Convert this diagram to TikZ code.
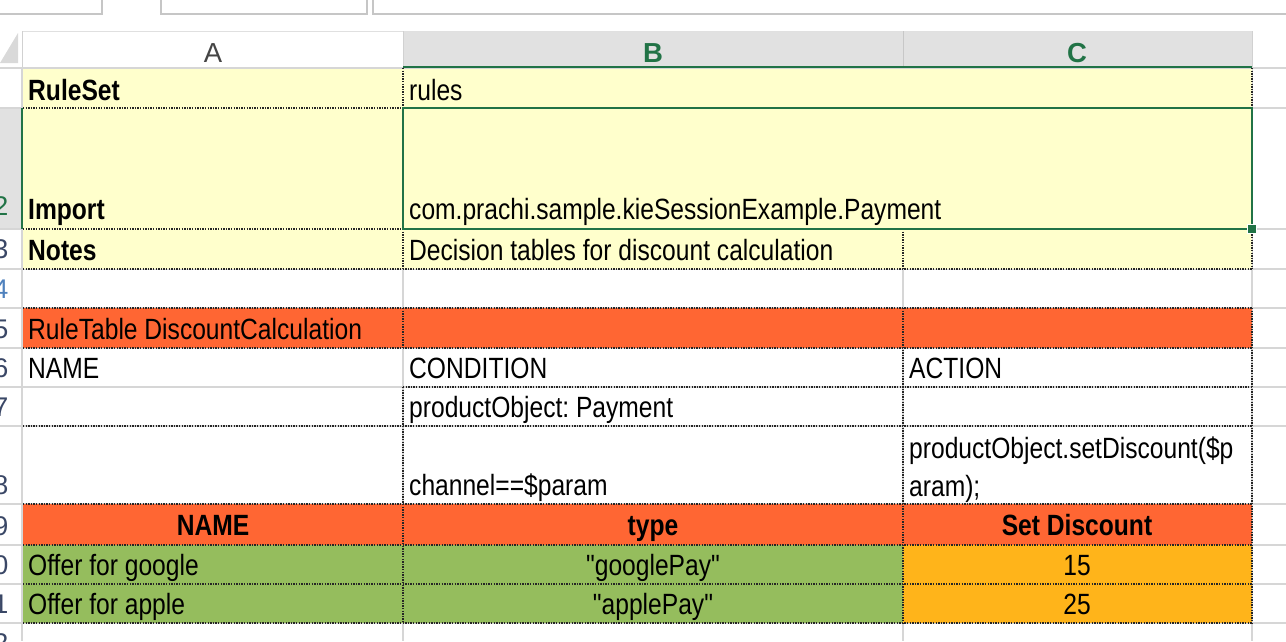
\documentclass[tikz,border=0pt]{standalone}
\usepackage{fontspec}
\newfontfamily\cellfont{Liberation Sans}[FakeStretch=0.84]
\newfontfamily\hdrfont{Liberation Sans}
\definecolor{xlyellow}{HTML}{FFFFCC}
\definecolor{xlorange}{HTML}{FF6633}
\definecolor{xlgreen}{HTML}{95BD5D}
\definecolor{xlamber}{HTML}{FFB41A}
\definecolor{selgreen}{HTML}{217346}
\definecolor{gridgray}{HTML}{D6D6D6}
\definecolor{hdrgray}{HTML}{E1E1E1}
\definecolor{boxgray}{HTML}{C6C6C6}
\definecolor{rownum}{HTML}{3A4766}
\definecolor{rowblue}{HTML}{4F81BD}
\frenchspacing
\begin{document}
\begin{tikzpicture}[x=1pt,y=-1pt,
  cell/.style={inner sep=0pt, anchor=base west, font={\cellfont\fontsize{29.3}{30}\selectfont}},
  cellb/.style={cell, font={\cellfont\bfseries\fontsize{29.3}{30}\selectfont}},
  cellc/.style={cell, anchor=base},
  cellcb/.style={cellb, anchor=base},
  colhdr/.style={inner sep=0pt, anchor=base, font={\hdrfont\fontsize{27.5}{27.5}\selectfont}, text=black!73},
  colhdrsel/.style={colhdr, font={\hdrfont\bfseries\fontsize{27.5}{27.5}\selectfont}, text=selgreen},
  rowhdr/.style={inner sep=0pt, anchor=base east, font={\hdrfont\fontsize{27}{27}\selectfont}, text=rownum},
  gridline/.style={draw=gridgray, line width=1.3pt},
  dotline/.style={draw=black!85, line width=1.3pt, dash pattern=on 1.3pt off 1.3pt},
  topbox/.style={draw=boxgray, line width=1.5pt},
  selline/.style={draw=selgreen, line width=2.6pt}
]
\useasboundingbox (0,0) rectangle (1286,641);
\fill[white] (0,0) rectangle (1286,641);

% top strip boxes
\draw[topbox] (102,-3) -- (102,14) -- (-3,14);
\draw[topbox] (161,-3) -- (161,14) -- (367,14) -- (367,-3);
\draw[topbox] (373,-3) -- (373,14) -- (1290,14);

% column header band
\fill[hdrgray] (403,31) rectangle (1252,67);
\fill[black!15] (0,63) -- (18,63) -- (18,33) -- cycle;
\draw[draw=black!12, line width=1pt] (22,31) -- (1252,31);
\draw[draw=black!18, line width=1pt] (22,31) -- (22,68);
\draw[draw=black!22, line width=1pt] (903,31) -- (903,67);
\draw[draw=black!18, line width=1pt] (403,31) -- (403,67);
\draw[draw=black!18, line width=1pt] (1252,31) -- (1252,67);

% row header highlight for row 2
\fill[hdrgray] (0,108) rectangle (22,229);

% gray gridlines
\foreach \yy in {68,108,229,269,308,348,387,426,504,545,584,623}
  \draw[gridline] (0,\yy) -- (1286,\yy);
\foreach \xx in {22,403,903,1252}
  \draw[gridline] (\xx,68) -- (\xx,641);

% cell fills
\fill[xlyellow] (23,68.7) rectangle (1252,269);
\fill[xlorange] (23,308) rectangle (1252,348);
\fill[xlorange] (23,504) rectangle (1252,545);
\fill[xlgreen] (23,545) rectangle (903,623);
\fill[xlamber] (903,545) rectangle (1252,623);

% dotted cell borders
\draw[dotline] (23,108) -- (403,108);
\foreach \yy in {229,269,308,348,426,504,545,584,623}
  \draw[dotline] (23,\yy) -- (1252,\yy);
\draw[dotline] (403,387) -- (1252,387);
\draw[dotline] (403,68) -- (403,108);
\draw[dotline] (403,229) -- (403,269);
\draw[dotline] (403,308) -- (403,348);
\draw[dotline] (403,387) -- (403,623);
\draw[dotline] (903,229) -- (903,269);
\draw[dotline] (903,308) -- (903,623);
\draw[dotline] (1252,68) -- (1252,269);
\draw[dotline] (1252,308) -- (1252,623);

% header underline for selected columns and row
\draw[selline] (403,67) -- (1252,67);
\draw[selline] (22,108) -- (22,229);

% selection rectangle and fill handle
\draw[selline] (403,108) rectangle (1252,229);
\draw[fill=selgreen, draw=white, line width=1pt] (1247.5,224.5) rectangle (1256.5,233.5);

% column letters
\node[colhdr] (hA) at (213,62) {A};
\node[colhdrsel] (hB) at (653,62) {B};
\node[colhdrsel] (hC) at (1077,62) {C};

% row numbers (clipped, header column only partly visible)
\begin{scope}
\clip (0,68) rectangle (21,641);
\node[rowhdr, text=selgreen] (r2) at (8.5,215) {2};
\node[rowhdr] (r3) at (8.5,258) {3};
\node[rowhdr, text=rowblue] (r4) at (8.5,298) {4};
\node[rowhdr] (r5) at (8.5,338) {5};
\node[rowhdr] (r6) at (8.5,377) {6};
\node[rowhdr] (r7) at (8.5,416) {7};
\node[rowhdr] (r8) at (8.5,494) {8};
\node[rowhdr] (r9) at (8.5,535) {9};
\node[rowhdr] (r10) at (8.5,574) {10};
\node[rowhdr] (r11) at (8.5,613) {11};
\node[rowhdr] (r12) at (8.5,652) {12};
\end{scope}

% cell texts
\node[cellb] (a1) at (28,100) {RuleSet};
\node[cell] (b1) at (409,100) {rules};
\node[cellb] (a2) at (28,219) {Import};
\node[cell] (b2) at (409,219) {com.prachi.sample.kieSessionExample.Payment};
\node[cellb] (a3) at (28,260) {Notes};
\node[cell] (b3) at (409,260) {Decision tables for discount calculation};
\node[cell] (a5) at (28,339) {RuleTable DiscountCalculation};
\node[cell] (a6) at (28,378) {NAME};
\node[cell] (b6) at (409,378) {CONDITION};
\node[cell] (c6) at (909,378) {ACTION};
\node[cell] (b7) at (409,417) {productObject: Payment};
\node[cell] (b8) at (409,495) {channel==\$param};
\node[cell] (c8a) at (909,458) {productObject.setDiscount(\$p};
\node[cell] (c8b) at (909,496) {aram);};
\node[cellcb] (a9) at (213,535) {NAME};
\node[cellcb] (b9) at (653,535) {type};
\node[cellcb] (c9) at (1077,535) {Set Discount};
\node[cell] (a10) at (28,575) {Offer for google};
\node[cellc] (b10) at (653,575) {"googlePay"};
\node[cellc] (c10) at (1077,575) {15};
\node[cell] (a11) at (28,614) {Offer for apple};
\node[cellc] (b11) at (653,614) {"applePay"};
\node[cellc] (c11) at (1077,614) {25};
\end{tikzpicture}
\end{document}
